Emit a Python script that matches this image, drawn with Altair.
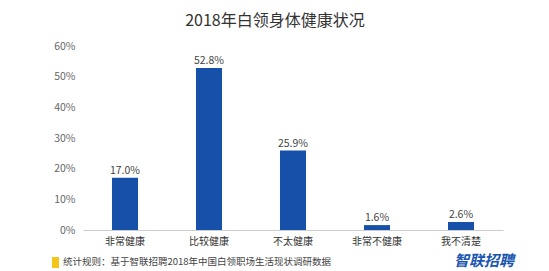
import altair as alt
import pandas as pd

categories = ["非常健康", "比较健康", "不太健康", "非常不健康", "我不清楚"]
values = [17.0, 52.8, 25.9, 1.6, 2.6]
y_ticks = [0, 10, 20, 30, 40, 50, 60]

df = pd.DataFrame({"cat": categories, "val": values})
df["label"] = [f"{v:.1f}%" for v in values]

FONT = "Noto Sans CJK SC"

x_enc = alt.X("cat:N", sort=categories, title=None,
              scale=alt.Scale(paddingInner=0.69, paddingOuter=0.345),
              axis=alt.Axis(labelAngle=0, ticks=False, domainColor="#cccccc",
                            labelColor="#333333", labelFontSize=10,
                            labelPadding=6, labelFont=FONT))
y_enc = alt.Y("val:Q", title=None,
              scale=alt.Scale(domain=[0, 60]),
              axis=alt.Axis(values=y_ticks, labelExpr="datum.value + '%'",
                            grid=False, domain=False, ticks=False,
                            labelOverlap=False,
                            labelColor="#666666", labelFontSize=10.5,
                            labelPadding=8, labelFont=FONT))

base = alt.Chart(df).encode(x=x_enc, y=y_enc)
bars = base.mark_bar(color="#1650a8")
labels = base.mark_text(dy=-7, fontSize=10.5, color="#444444", font=FONT).encode(
    text="label:N")

footer_df = pd.DataFrame({"t": ["统计规则：基于智联招聘2018年中国白领职场生活现状调研数据"]})
footer = alt.Chart(footer_df).mark_text(align="left", baseline="middle", fontSize=9.5,
                                         color="#444444", font=FONT).encode(
    x=alt.value(-20), y=alt.value(216), text="t:N")
marker = alt.Chart(footer_df).mark_rect(color="#f5c518").encode(
    x=alt.value(-31), x2=alt.value(-24), y=alt.value(211), y2=alt.value(222))

logo_df = pd.DataFrame({"t": ["智联招聘"]})
logo = alt.Chart(logo_df).mark_text(align="left", baseline="middle", fontSize=15,
                                     fontWeight="bold", fontStyle="italic",
                                     color="#1a56b0", font=FONT).encode(
    x=alt.value(371), y=alt.value(215), text="t:N")

chart = alt.layer(bars, labels, footer, marker, logo).properties(
    width=420, height=184,
    title=alt.Title("2018年白领身体健康状况", fontSize=16, fontWeight="normal",
                    color="#333333", font=FONT, dx=-18, offset=12),
    padding={"left": 83, "top": 46, "right": 46, "bottom": 41},
    autosize=alt.AutoSizeParams(type="none"),
    background="white",
).configure_view(strokeWidth=0)

chart.save("out.html", embed_options={"renderer": "svg", "actions": False})
